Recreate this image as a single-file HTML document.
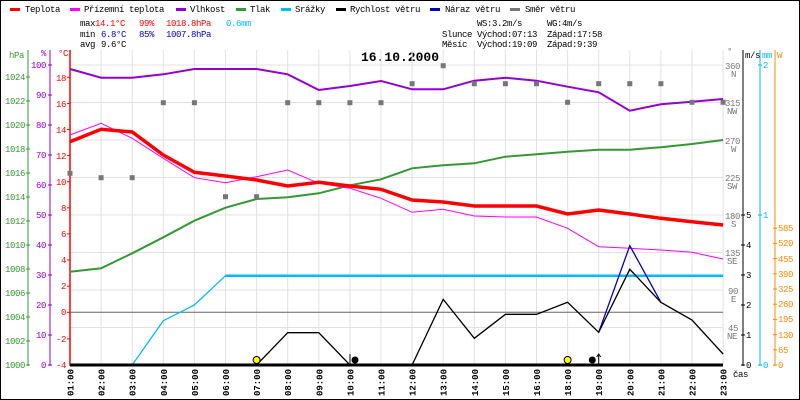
<!DOCTYPE html>
<html><head><meta charset="utf-8"><style>
html,body{margin:0;padding:0;background:#fff}
svg{display:block;font-family:"Liberation Mono",monospace;font-size:9px;letter-spacing:-0.4px}
</style></head><body>
<svg width="800" height="400" viewBox="0 0 800 400" xmlns="http://www.w3.org/2000/svg">
<rect x="0.5" y="0.5" width="799" height="399" fill="#fff" stroke="#000"/>
<!-- legend -->
<g>
<rect x="10" y="8" width="10" height="3" fill="#f00"/><text x="25" y="12">Teplota</text>
<rect x="70" y="8" width="10" height="3" fill="#f0f"/><text x="84" y="12">Přízemní teplota</text>
<rect x="176" y="8" width="10" height="3" fill="#9400d3"/><text x="190" y="12">Vlhkost</text>
<rect x="236" y="8" width="10" height="3" fill="#393"/><text x="250" y="12">Tlak</text>
<rect x="281" y="8" width="10" height="3" fill="#0bf"/><text x="295" y="12">Srážky</text>
<rect x="336" y="8" width="10" height="3" fill="#000"/><text x="350" y="12">Rychlost větru</text>
<rect x="430" y="8" width="10" height="3" fill="#00c"/><text x="445" y="12">Náraz větru</text>
<rect x="510" y="8" width="10" height="3" fill="#777"/><text x="525" y="12">Směr větru</text>
</g>
<g>
<text x="80" y="26">max</text><text x="95" y="26" fill="#f00">14.1°C</text><text x="139" y="26" fill="#f00">99%</text><text x="166" y="26" fill="#f00">1018.8hPa</text><text x="226" y="26" fill="#0bf">0.6mm</text>
<text x="80" y="37">min</text><text x="101" y="37" fill="#00c">6.8°C</text><text x="139" y="37" fill="#00c">85%</text><text x="166" y="37" fill="#00c">1007.8hPa</text>
<text x="80" y="47">avg</text><text x="101" y="47">9.6°C</text>
<text x="477" y="26">WS:3.2m/s</text><text x="547" y="26">WG:4m/s</text>
<text x="442" y="37">Slunce</text><text x="477" y="37">Východ:07:13</text><text x="547" y="37">Západ:17:58</text>
<text x="442" y="47">Měsíc</text><text x="477" y="47">Východ:19:09</text><text x="547" y="47">Západ:9:39</text>
</g>
<text x="400" y="61" text-anchor="middle" font-size="13" font-weight="bold" letter-spacing="0">16.10.2000</text>
<!-- grid -->
<g stroke="#e4e0e0" stroke-width="1">
<line x1="70" y1="65" x2="723" y2="65"/><line x1="70" y1="102.5" x2="723" y2="102.5"/><line x1="70" y1="140" x2="723" y2="140"/><line x1="70" y1="177.5" x2="723" y2="177.5"/><line x1="70" y1="215" x2="723" y2="215"/><line x1="70" y1="252.5" x2="723" y2="252.5"/><line x1="70" y1="290" x2="723" y2="290"/><line x1="70" y1="327.5" x2="723" y2="327.5"/>
<line x1="101.1" y1="50" x2="101.1" y2="365"/><line x1="132.2" y1="50" x2="132.2" y2="365"/><line x1="163.3" y1="50" x2="163.3" y2="365"/><line x1="194.4" y1="50" x2="194.4" y2="365"/><line x1="225.5" y1="50" x2="225.5" y2="365"/><line x1="256.6" y1="50" x2="256.6" y2="365"/><line x1="287.7" y1="50" x2="287.7" y2="365"/><line x1="318.8" y1="50" x2="318.8" y2="365"/><line x1="349.9" y1="50" x2="349.9" y2="365"/><line x1="381" y1="50" x2="381" y2="365"/><line x1="412.1" y1="50" x2="412.1" y2="365"/><line x1="443.2" y1="50" x2="443.2" y2="365"/><line x1="474.3" y1="50" x2="474.3" y2="365"/><line x1="505.4" y1="50" x2="505.4" y2="365"/><line x1="536.5" y1="50" x2="536.5" y2="365"/><line x1="567.6" y1="50" x2="567.6" y2="365"/><line x1="598.7" y1="50" x2="598.7" y2="365"/><line x1="629.8" y1="50" x2="629.8" y2="365"/><line x1="660.9" y1="50" x2="660.9" y2="365"/><line x1="692" y1="50" x2="692" y2="365"/><line x1="723.1" y1="50" x2="723.1" y2="365"/>
</g>
<line x1="70" y1="312.3" x2="723" y2="312.3" stroke="#666"/>
<!-- left axes -->
<line x1="28" y1="50" x2="28" y2="366" stroke="#393"/>
<line x1="50" y1="50" x2="50" y2="366" stroke="#9400d3"/>
<line x1="70" y1="50" x2="70" y2="366" stroke="#f00" stroke-width="1.5"/>
<g fill="#393" text-anchor="end">
<text x="24" y="58">hPa</text>
<text x="25" y="368">1000</text><text x="25" y="344">1002</text><text x="25" y="320">1004</text><text x="25" y="296">1006</text><text x="25" y="272">1008</text><text x="25" y="248">1010</text><text x="25" y="224">1012</text><text x="25" y="200">1014</text><text x="25" y="176">1016</text><text x="25" y="152">1018</text><text x="25" y="128">1020</text><text x="25" y="104">1022</text><text x="25" y="80">1024</text>
</g>
<g stroke="#393"><line x1="26" y1="365" x2="30" y2="365"/><line x1="26" y1="341" x2="30" y2="341"/><line x1="26" y1="317" x2="30" y2="317"/><line x1="26" y1="293" x2="30" y2="293"/><line x1="26" y1="269" x2="30" y2="269"/><line x1="26" y1="245" x2="30" y2="245"/><line x1="26" y1="221" x2="30" y2="221"/><line x1="26" y1="197" x2="30" y2="197"/><line x1="26" y1="173" x2="30" y2="173"/><line x1="26" y1="149" x2="30" y2="149"/><line x1="26" y1="125" x2="30" y2="125"/><line x1="26" y1="101" x2="30" y2="101"/><line x1="26" y1="77" x2="30" y2="77"/></g>
<g fill="#9400d3" text-anchor="end">
<text x="46" y="56">%</text>
<text x="46" y="368">0</text><text x="46" y="338">10</text><text x="46" y="308">20</text><text x="46" y="278">30</text><text x="46" y="248">40</text><text x="46" y="218">50</text><text x="46" y="188">60</text><text x="46" y="158">70</text><text x="46" y="128">80</text><text x="46" y="98">90</text><text x="46" y="68">100</text>
</g>
<g stroke="#9400d3"><line x1="48" y1="365" x2="52" y2="365"/><line x1="48" y1="335" x2="52" y2="335"/><line x1="48" y1="305" x2="52" y2="305"/><line x1="48" y1="275" x2="52" y2="275"/><line x1="48" y1="245" x2="52" y2="245"/><line x1="48" y1="215" x2="52" y2="215"/><line x1="48" y1="185" x2="52" y2="185"/><line x1="48" y1="155" x2="52" y2="155"/><line x1="48" y1="125" x2="52" y2="125"/><line x1="48" y1="95" x2="52" y2="95"/><line x1="48" y1="65" x2="52" y2="65"/></g>
<g fill="#f00" text-anchor="end">
<text x="68" y="56">°C</text>
<text x="66" y="368">-4</text><text x="66" y="342">-2</text><text x="66" y="315">0</text><text x="66" y="289">2</text><text x="66" y="263">4</text><text x="66" y="237">6</text><text x="66" y="211">8</text><text x="66" y="185">10</text><text x="66" y="159">12</text><text x="66" y="133">14</text><text x="66" y="107">16</text><text x="66" y="81">18</text>
</g>
<g stroke="#f00"><line x1="67" y1="338.9" x2="70" y2="338.9"/><line x1="67" y1="312.3" x2="70" y2="312.3"/><line x1="67" y1="286.2" x2="70" y2="286.2"/><line x1="67" y1="260" x2="70" y2="260"/><line x1="67" y1="233.9" x2="70" y2="233.9"/><line x1="67" y1="207.8" x2="70" y2="207.8"/><line x1="67" y1="181.7" x2="70" y2="181.7"/><line x1="67" y1="155.6" x2="70" y2="155.6"/><line x1="67" y1="129.5" x2="70" y2="129.5"/><line x1="67" y1="103.4" x2="70" y2="103.4"/><line x1="67" y1="77.3" x2="70" y2="77.3"/></g>
<!-- right axes -->
<g fill="#777">
<text x="727" y="54">°</text>
<text x="725" y="69">360</text><text x="731" y="77">N</text>
<text x="725" y="106">315</text><text x="727" y="114">NW</text>
<text x="725" y="144">270</text><text x="731" y="152">W</text>
<text x="725" y="181">225</text><text x="727" y="189">SW</text>
<text x="725" y="219">180</text><text x="731" y="227">S</text>
<text x="725" y="256">135</text><text x="727" y="264">SE</text>
<text x="728" y="294">90</text><text x="731" y="302">E</text>
<text x="728" y="331">45</text><text x="727" y="339">NE</text>
</g>
<line x1="743" y1="50" x2="743" y2="366" stroke="#000"/>
<g>
<text x="745" y="58">m/s</text>
<text x="746" y="368">0</text><text x="746" y="338">1</text><text x="746" y="308">2</text><text x="746" y="278">3</text><text x="746" y="248">4</text><text x="746" y="218">5</text>
</g>
<g stroke="#000"><line x1="741" y1="365" x2="745" y2="365"/><line x1="741" y1="335" x2="745" y2="335"/><line x1="741" y1="305" x2="745" y2="305"/><line x1="741" y1="275" x2="745" y2="275"/><line x1="741" y1="245" x2="745" y2="245"/><line x1="741" y1="215" x2="745" y2="215"/></g>
<line x1="760" y1="50" x2="760" y2="366" stroke="#0bf"/>
<g fill="#0bf"><text x="762" y="58">mm</text><text x="763" y="368">0</text><text x="763" y="218">1</text><text x="763" y="68">2</text></g>
<g stroke="#0bf"><line x1="758" y1="365" x2="762" y2="365"/><line x1="758" y1="215" x2="762" y2="215"/><line x1="758" y1="65" x2="762" y2="65"/></g>
<line x1="775" y1="50" x2="775" y2="366" stroke="#f80"/>
<g fill="#f80"><text x="777" y="58">W</text>
<text x="778" y="368">0</text><text x="778" y="353">65</text><text x="778" y="338">130</text><text x="778" y="322">195</text><text x="778" y="307">260</text><text x="778" y="292">325</text><text x="778" y="277">390</text><text x="778" y="262">455</text><text x="778" y="246">520</text><text x="778" y="231">585</text></g>
<g stroke="#f80"><line x1="773" y1="365" x2="777" y2="365"/><line x1="773" y1="349.8" x2="777" y2="349.8"/><line x1="773" y1="334.6" x2="777" y2="334.6"/><line x1="773" y1="319.4" x2="777" y2="319.4"/><line x1="773" y1="304.2" x2="777" y2="304.2"/><line x1="773" y1="289" x2="777" y2="289"/><line x1="773" y1="273.8" x2="777" y2="273.8"/><line x1="773" y1="258.6" x2="777" y2="258.6"/><line x1="773" y1="243.4" x2="777" y2="243.4"/><line x1="773" y1="228.2" x2="777" y2="228.2"/></g>
<!-- series -->
<polyline fill="none" stroke="#393" stroke-width="2" points="70,271.7 101.1,268.3 132.2,253.3 163.3,237.3 194.4,220.7 225.5,207.7 256.6,199 287.7,197.3 318.8,193.3 349.9,185.3 381,179.3 412.1,168.3 443.2,165.3 474.3,163.3 505.4,156.7 536.5,154.3 567.6,151.7 598.7,149.7 629.8,149.7 660.9,147.3 692,144 723.1,140"/>
<polyline fill="none" stroke="#9400d3" stroke-width="2" points="70,69 101.1,77.7 132.2,77.7 163.3,74.3 194.4,69 225.5,69 256.6,69 287.7,74.3 318.8,90 349.9,86 381,81 412.1,89.3 443.2,89.3 474.3,80.7 505.4,77.7 536.5,80.7 567.6,86.7 598.7,92.3 629.8,110.7 660.9,104.3 692,101.7 723.1,99"/>
<polyline fill="none" stroke="#0bf" stroke-width="1.3" points="70,365 132.2,365 163.3,320.7 194.4,305 225.5,275.7"/>
<line x1="225.5" y1="275.7" x2="723.1" y2="275.7" stroke="#0bf" stroke-width="2.5"/>
<polyline fill="none" stroke="#f0f" stroke-width="1" points="70,135 101.1,123.3 132.2,138.3 163.3,158.3 194.4,177.7 225.5,182.7 256.6,176.7 287.7,170 318.8,183.3 349.9,188.3 381,198.3 412.1,212.3 443.2,209.3 474.3,216 505.4,217 536.5,217 567.6,228.3 598.7,246.7 629.8,248.3 660.9,250 692,252.3 723.1,259"/>
<polyline fill="none" stroke="#f00" stroke-width="3.5" points="70,141.7 101.1,129.3 132.2,132 163.3,155 194.4,172.3 225.5,176 256.6,180 287.7,186 318.8,182.3 349.9,186 381,189.3 412.1,200 443.2,202 474.3,206 505.4,206 536.5,206 567.6,214 598.7,210 629.8,214 660.9,218.3 692,221.7 723.1,225"/>
<polyline fill="none" stroke="#00c" stroke-width="1.3" points="598.7,332.3 629.8,245.7 660.9,302.3"/>
<polyline fill="none" stroke="#000" stroke-width="1.3" points="70,365 256.6,365 287.7,332.7 318.8,332.7 349.9,365 412.1,365 443.2,299.3 474.3,338.3 505.4,314.3 536.5,314.3 567.6,302.3 598.7,332.3 629.8,269.3 660.9,302.3 692,320 723.1,354"/>
<line x1="70" y1="365" x2="723" y2="365" stroke="#000" stroke-width="3"/>
<!-- direction markers -->
<g fill="#777">
<rect x="67.5" y="170.8" width="5" height="5"/><rect x="98.6" y="175.2" width="5" height="5"/><rect x="129.7" y="175.2" width="5" height="5"/><rect x="160.8" y="100.2" width="5" height="5"/><rect x="191.9" y="100.2" width="5" height="5"/><rect x="223" y="194.2" width="5" height="5"/><rect x="254.1" y="194.2" width="5" height="5"/><rect x="285.2" y="100.2" width="5" height="5"/><rect x="316.3" y="100.2" width="5" height="5"/><rect x="347.4" y="100.2" width="5" height="5"/><rect x="378.5" y="100.2" width="5" height="5"/><rect x="409.6" y="81.2" width="5" height="5"/><rect x="440.7" y="63.2" width="5" height="5"/><rect x="471.8" y="81.2" width="5" height="5"/><rect x="502.9" y="81.2" width="5" height="5"/><rect x="534" y="81.2" width="5" height="5"/><rect x="565.1" y="99.8" width="5" height="5"/><rect x="596.2" y="81.2" width="5" height="5"/><rect x="627.3" y="81.2" width="5" height="5"/><rect x="658.4" y="81.2" width="5" height="5"/><rect x="689.5" y="99.8" width="5" height="5"/><rect x="720.6" y="99.8" width="5" height="5"/>
</g>
<!-- sun/moon icons -->
<circle cx="256.6" cy="360" r="3.5" fill="#ff0" stroke="#000"/>
<circle cx="567.6" cy="360" r="3.5" fill="#ff0" stroke="#000"/>
<circle cx="355" cy="360" r="3.5" fill="#000"/>
<line x1="350" y1="354" x2="350" y2="365" stroke="#000"/>
<circle cx="592.3" cy="360" r="3.5" fill="#000"/>
<line x1="598.7" y1="355" x2="598.7" y2="365" stroke="#000"/>
<polyline points="596.7,357 598.7,354 600.7,357" fill="none" stroke="#000"/>
<!-- x labels -->
<g font-size="9" font-weight="bold" text-anchor="end" letter-spacing="0">
<text transform="translate(73.5,369) rotate(-90)">01:00</text>
<text transform="translate(104.6,369) rotate(-90)">02:00</text>
<text transform="translate(135.7,369) rotate(-90)">03:00</text>
<text transform="translate(166.8,369) rotate(-90)">04:00</text>
<text transform="translate(197.9,369) rotate(-90)">05:00</text>
<text transform="translate(229,369) rotate(-90)">06:00</text>
<text transform="translate(260.1,369) rotate(-90)">07:00</text>
<text transform="translate(291.2,369) rotate(-90)">08:00</text>
<text transform="translate(322.3,369) rotate(-90)">09:00</text>
<text transform="translate(353.4,369) rotate(-90)">10:00</text>
<text transform="translate(384.5,369) rotate(-90)">11:00</text>
<text transform="translate(415.6,369) rotate(-90)">12:00</text>
<text transform="translate(446.7,369) rotate(-90)">13:00</text>
<text transform="translate(477.8,369) rotate(-90)">14:00</text>
<text transform="translate(508.9,369) rotate(-90)">15:00</text>
<text transform="translate(540,369) rotate(-90)">16:00</text>
<text transform="translate(571.1,369) rotate(-90)">18:00</text>
<text transform="translate(602.2,369) rotate(-90)">19:00</text>
<text transform="translate(633.3,369) rotate(-90)">20:00</text>
<text transform="translate(664.4,369) rotate(-90)">21:00</text>
<text transform="translate(695.5,369) rotate(-90)">22:00</text>
<text transform="translate(726.6,369) rotate(-90)">23:00</text>
</g>
<text x="733" y="377">čas</text>
</svg>
</body></html>
